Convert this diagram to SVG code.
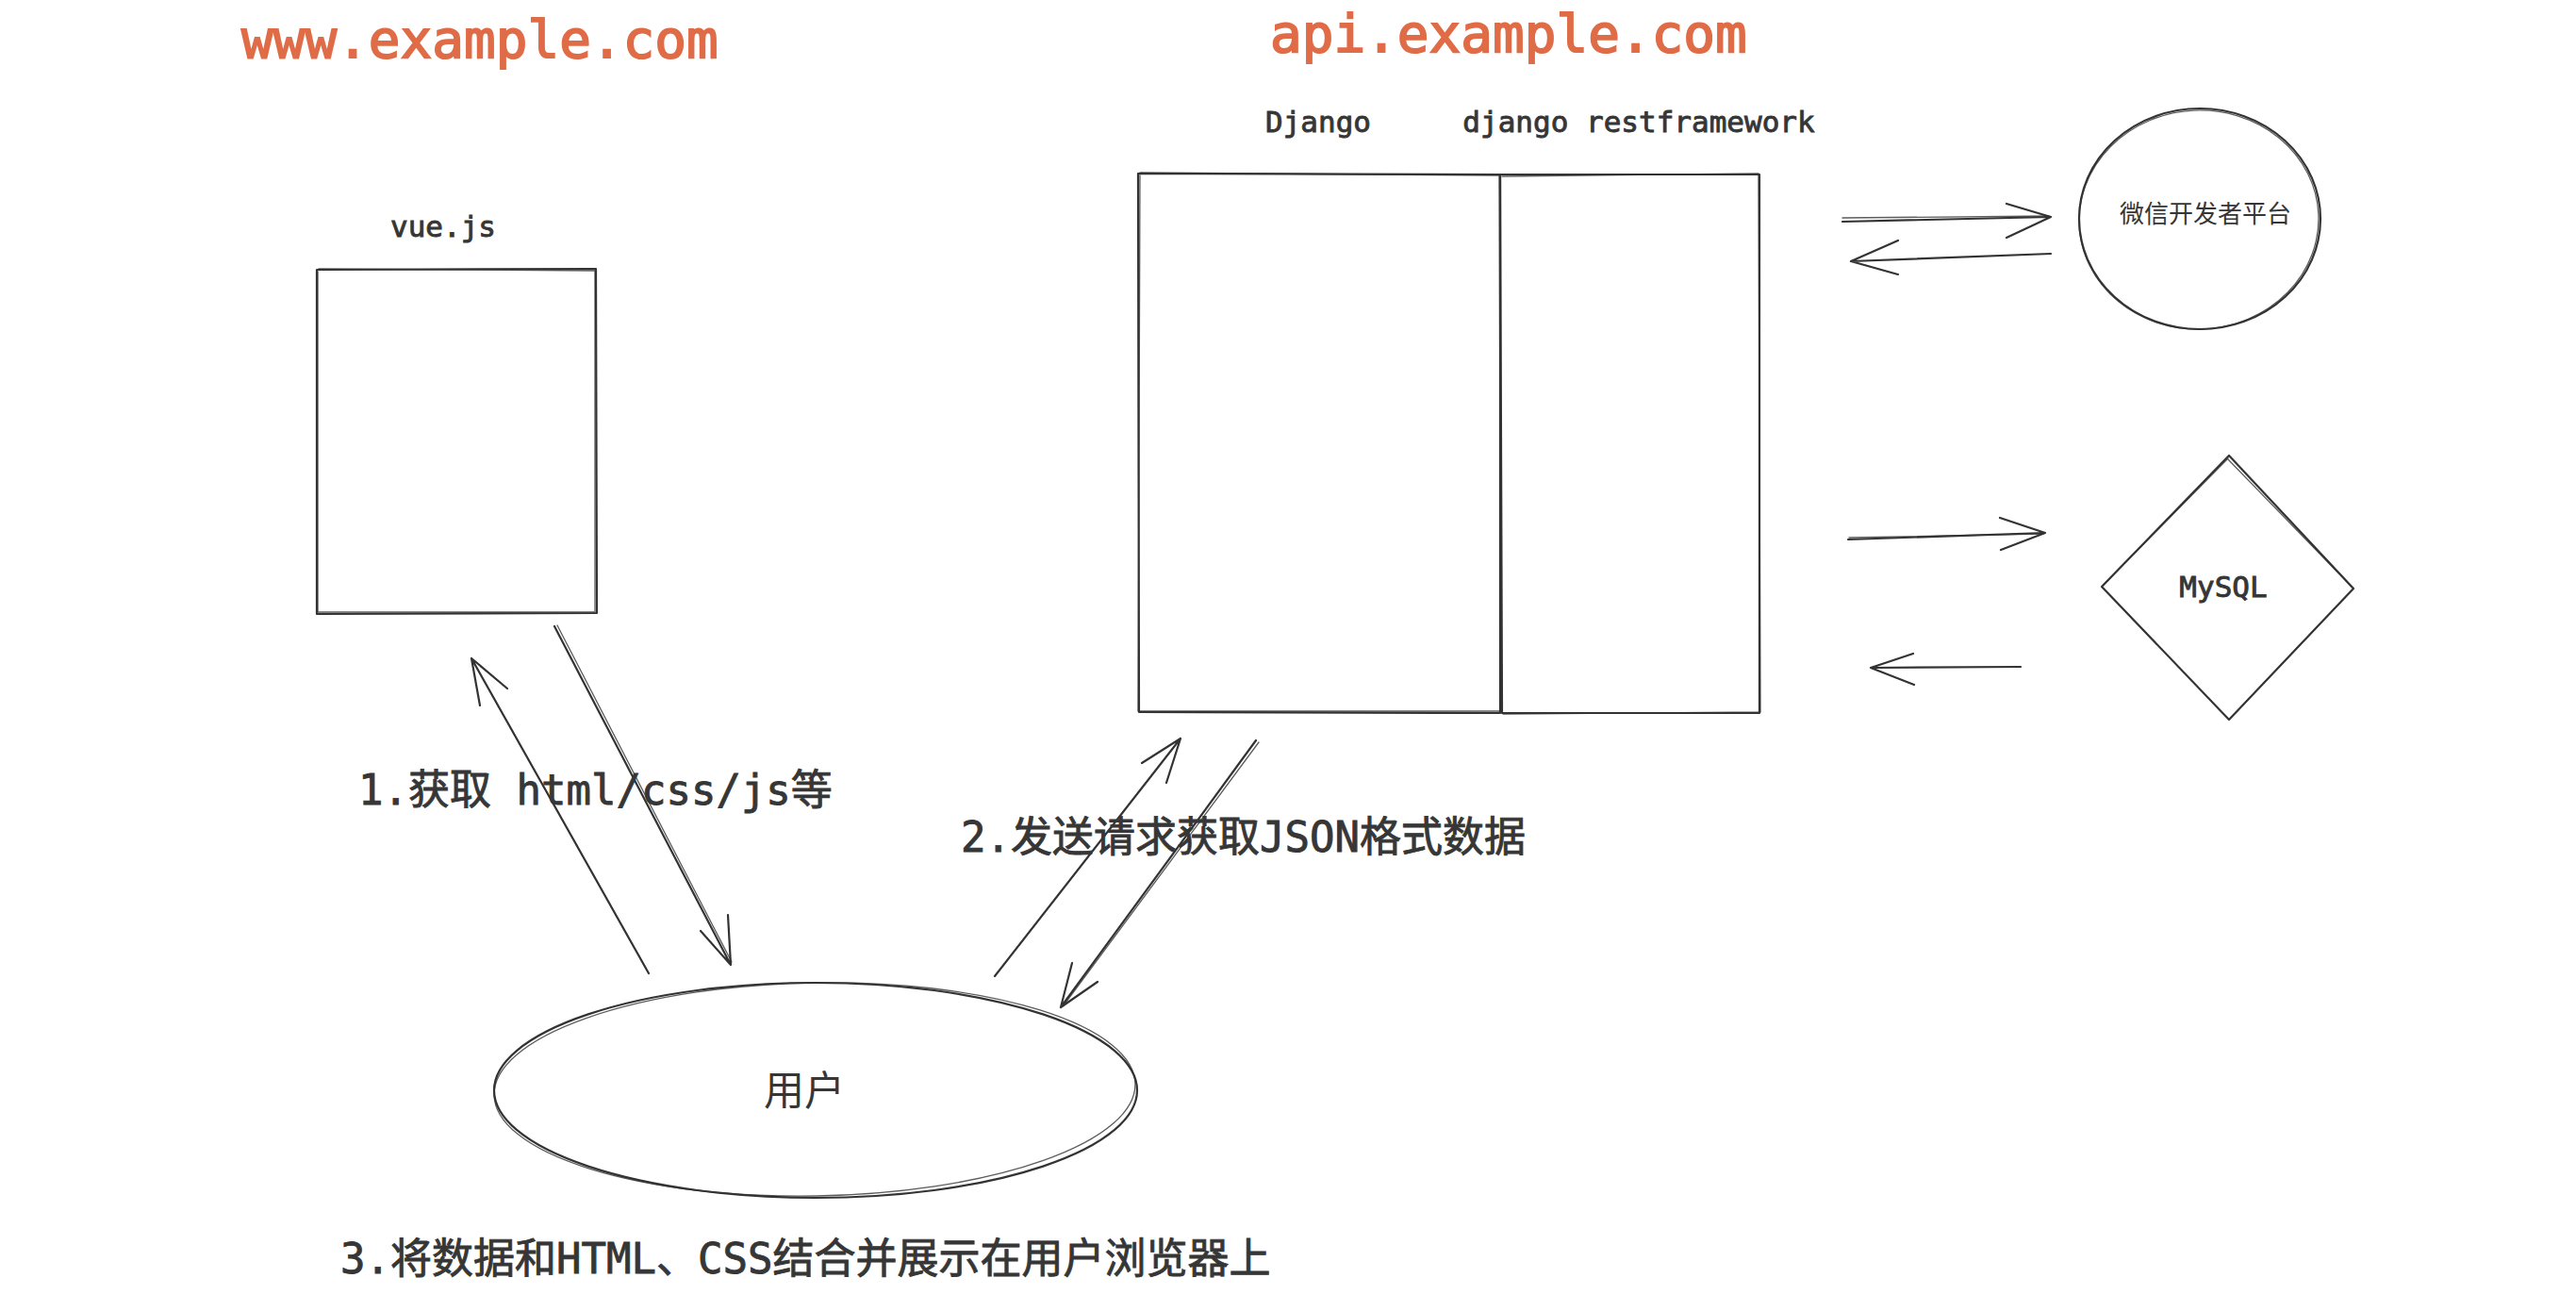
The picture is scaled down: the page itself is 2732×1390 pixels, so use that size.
<svg xmlns="http://www.w3.org/2000/svg" width="2732" height="1390" viewBox="0 0 2732 1390">
<defs>
<style>
.bg{fill:#ffffff}
.sk{fill:none;stroke:#333333;stroke-width:2.2;stroke-linecap:round;stroke-linejoin:round}
.sk2{fill:none;stroke:#333333;stroke-width:1.3;stroke-linecap:round;stroke-linejoin:round;opacity:0.8}
.t{font-family:'DejaVu Sans Mono','Noto Sans CJK SC',monospace;fill:#363636;stroke:#363636;stroke-width:0.9}
.title{font-family:'DejaVu Sans Mono','Noto Sans CJK SC',monospace;fill:#e06c47;font-size:56px;stroke:#e06c47;stroke-width:1.8}
.lbl{font-size:31px}
.big{font-size:44px}
.cjk{font-family:'Noto Sans CJK SC',sans-serif;fill:#363636}
</style>
</defs>
<rect class="bg" x="0" y="0" width="2732" height="1390"/>

<g id="titles">
<text class="title" x="256" y="61">www.example.com</text>
<text class="title" x="1347" y="55">api.example.com</text>
</g>

<g id="vue">
<path class="sk" d="M336 286 L632 285 L633 650 L336 651 Z"/>
<path class="sk2" d="M338 285 L631 287 L631 649 L337 649 L337 288"/>
<text class="t lbl" x="470" y="251" text-anchor="middle">vue.js</text>
</g>

<g id="django">
<path class="sk" d="M1207 184 L1591 185 L1591 756 L1208 755 Z"/>
<path class="sk2" d="M1209 183 L1590 186 L1592 754 L1207 754 L1209 186"/>
<text class="t lbl" x="1398" y="140" text-anchor="middle">Django</text>
</g>

<g id="drf">
<path class="sk" d="M1591 185 L1866 185 L1866 756 L1593 756 Z"/>
<path class="sk2" d="M1593 187 L1865 184 L1867 755 L1594 757"/>
<text class="t lbl" x="1738" y="140" text-anchor="middle">django restframework</text>
</g>

<g id="wechat">
<ellipse class="sk" cx="2333" cy="232" rx="128" ry="117"/>
<ellipse class="sk2" cx="2332" cy="233" rx="127" ry="116" transform="rotate(-3 2332 233)"/>
<text class="cjk" x="2339" y="236" font-size="26" text-anchor="middle">微信开发者平台</text>
</g>

<g id="mysql">
<path class="sk" d="M2364 483 L2496 624 L2364 763 L2229 622 Z"/>
<path class="sk2" d="M2362 486 L2494 622 M2231 620 L2363 486"/>
<text class="t lbl" x="2358" y="633" text-anchor="middle">MySQL</text>
</g>

<g id="user">
<ellipse class="sk" cx="865" cy="1156" rx="341" ry="114"/>
<ellipse class="sk2" cx="864" cy="1155" rx="340" ry="113" transform="rotate(-1 864 1155)"/>
<text class="cjk" x="853" y="1172" font-size="43" text-anchor="middle">用户</text>
</g>

<g id="connectors">
<path class="sk" d="M688 1032 L500 698 M538 730 L500 698 L509 748"/>
<path class="sk" d="M588 664 L775 1023 M772 970 L775 1023 L743 987"/>
<path class="sk2" d="M591 663 L776 1020"/>
<path class="sk" d="M1055 1035 L1252 783 M1211 809 L1252 783 L1237 830"/>
<path class="sk" d="M1332 785 L1125 1068 M1137 1021 L1125 1068 L1164 1041"/>
<path class="sk2" d="M1335 787 L1128 1066"/>
<path class="sk" d="M1954 235 L2175 230 M2128 216 L2175 230 L2128 252"/>
<path class="sk2" d="M1954 231 L2173 229"/>
<path class="sk" d="M2175 269 L1963 277 M2013 255 L1963 277 L2013 291"/>
<path class="sk" d="M1960 572 L2169 565 M2121 549 L2169 565 L2122 583"/>
<path class="sk2" d="M1961 570 L2167 566"/>
<path class="sk" d="M2143 707 L1984 708 M2029 693 L1984 708 L2030 726"/>
</g>

<g id="labels">
<text class="t big" x="380" y="853">1.获取 html/css/js等</text>
<text class="t big" x="1019" y="903">2.发送请求获取JSON格式数据</text>
<text class="t big" x="361" y="1350">3.将数据和HTML、CSS结合并展示在用户浏览器上</text>
</g>
</svg>
